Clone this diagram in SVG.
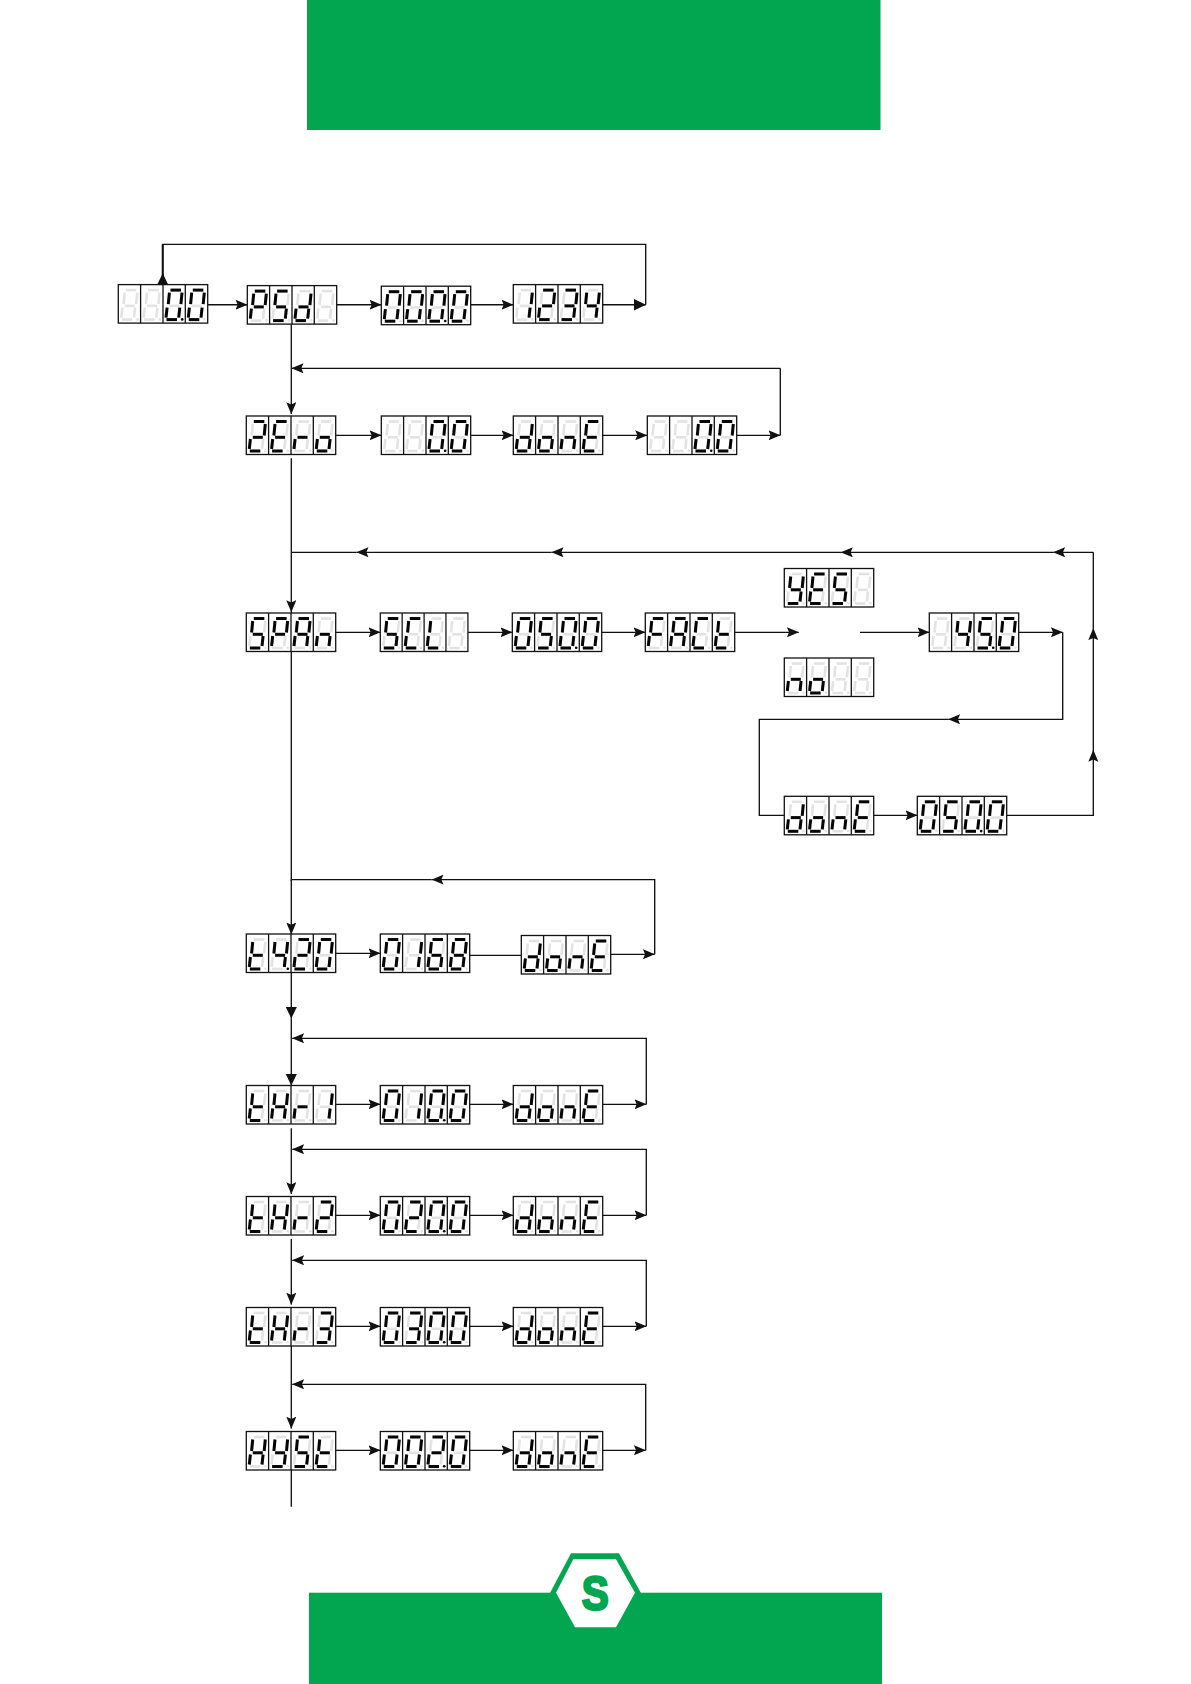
<svg xmlns="http://www.w3.org/2000/svg" width="1191" height="1684" viewBox="0 0 1191 1684">
<style>
.on{stroke:#050505;fill:#050505;stroke-width:3}
.off{stroke:#e3e3e3;fill:#e3e3e3;stroke-width:2.6}
.fr{fill:#fff;stroke:#111;stroke-width:1.3}
.dv{stroke:#111;stroke-width:1.3}
.cn path{fill:none;stroke:#111;stroke-width:1.35}
.a{marker-end:url(#ah)}
.A{marker-end:url(#ahb)}
.g{fill:#02a651}
</style>
<defs>
<marker id="ah" markerUnits="userSpaceOnUse" markerWidth="12" markerHeight="10" refX="11.8" refY="5" orient="auto"><path d="M0,0 L12,5 L0,10 L2.2,5 z" fill="#111"/></marker>
<marker id="ahb" markerUnits="userSpaceOnUse" markerWidth="12" markerHeight="12" refX="11.8" refY="6" orient="auto"><path d="M0,0.2 L12,6 L0,11.8 z" fill="#111"/></marker>
<line id="a" x1="7.5" y1="5.5" x2="18" y2="5.5"/>
<line id="b" x1="19" y1="8" x2="17.9" y2="19.5"/>
<line id="c" x1="16.8" y1="23" x2="15.7" y2="33"/>
<line id="d" x1="3.5" y1="35" x2="14" y2="35"/>
<line id="e" x1="4.1" y1="23" x2="3" y2="33"/>
<line id="f" x1="6.4" y1="8" x2="5.3" y2="19.5"/>
<line id="g" x1="6.5" y1="21.3" x2="16.5" y2="21.3"/>
<circle id="p" cx="19.2" cy="34.8" r="1.3" stroke="none"/>
<g id="c8" class="off"><use href="#a"/><use href="#b"/><use href="#c"/><use href="#d"/><use href="#e"/><use href="#f"/><use href="#g"/><use href="#p"/></g>
<g id="box"><rect class="fr" width="89.4" height="38.5"/><line class="dv" x1="22.3" y1="0" x2="22.3" y2="38.5"/><line class="dv" x1="44.7" y1="0" x2="44.7" y2="38.5"/><line class="dv" x1="67" y1="0" x2="67" y2="38.5"/><use href="#c8"/><use href="#c8" x="22.3"/><use href="#c8" x="44.7"/><use href="#c8" x="67"/></g>
<g id="dp" class="on"><use href="#p"/></g>
<g id="d0" class="on"><use href="#a"/><use href="#b"/><use href="#c"/><use href="#d"/><use href="#e"/><use href="#f"/></g>
<g id="d1" class="on"><use href="#b"/><use href="#c"/></g>
<g id="d2" class="on"><use href="#a"/><use href="#b"/><use href="#g"/><use href="#e"/><use href="#d"/></g>
<g id="d3" class="on"><use href="#a"/><use href="#b"/><use href="#g"/><use href="#c"/><use href="#d"/></g>
<g id="d4" class="on"><use href="#f"/><use href="#g"/><use href="#b"/><use href="#c"/></g>
<g id="d5" class="on"><use href="#a"/><use href="#f"/><use href="#g"/><use href="#c"/><use href="#d"/></g>
<g id="d6" class="on"><use href="#a"/><use href="#f"/><use href="#g"/><use href="#e"/><use href="#c"/><use href="#d"/></g>
<g id="d8" class="on"><use href="#a"/><use href="#b"/><use href="#c"/><use href="#d"/><use href="#e"/><use href="#f"/><use href="#g"/></g>
<g id="lA" class="on"><use href="#a"/><use href="#b"/><use href="#c"/><use href="#e"/><use href="#f"/><use href="#g"/></g>
<g id="lC" class="on"><use href="#a"/><use href="#d"/><use href="#e"/><use href="#f"/></g>
<g id="ld" class="on"><use href="#b"/><use href="#c"/><use href="#d"/><use href="#e"/><use href="#g"/></g>
<g id="lE" class="on"><use href="#a"/><use href="#d"/><use href="#e"/><use href="#f"/><use href="#g"/></g>
<g id="lF" class="on"><use href="#a"/><use href="#e"/><use href="#f"/><use href="#g"/></g>
<g id="lH" class="on"><use href="#b"/><use href="#c"/><use href="#e"/><use href="#f"/><use href="#g"/></g>
<g id="lL" class="on"><use href="#d"/><use href="#e"/><use href="#f"/></g>
<g id="ln" class="on"><use href="#c"/><use href="#e"/><use href="#g"/></g>
<g id="lo" class="on"><use href="#c"/><use href="#d"/><use href="#e"/><use href="#g"/></g>
<g id="lP" class="on"><use href="#a"/><use href="#b"/><use href="#e"/><use href="#f"/><use href="#g"/></g>
<g id="lr" class="on"><use href="#e"/><use href="#g"/></g>
<g id="lt" class="on"><use href="#d"/><use href="#e"/><use href="#f"/><use href="#g"/></g>
<g id="lY" class="on"><use href="#b"/><use href="#c"/><use href="#d"/><use href="#f"/><use href="#g"/></g>
</defs>

<g id="banner-top"><rect class="g" x="307" y="0" width="573.5" height="130"/></g>
<g id="banner-bottom"><rect class="g" x="309" y="1592.7" width="573" height="91.3"/><path class="g" d="M550,1593 L571,1553.3 L619,1553.3 L641,1593 z"/><path fill="#fff" d="M556,1592.7 L573.3,1559.3 L616,1559.3 L635,1592.7 L616,1627.3 L575,1627.3 z"/><text transform="translate(595.3 1610.3) scale(.88 1.03)" x="0" y="0" text-anchor="middle" font-family="'Liberation Sans',Arial,sans-serif" font-weight="700" font-size="46" class="g" stroke="#02a651" stroke-width="2.4">S</text></g>

<g id="connectors" class="cn">
<path class="a" d="M207.7,304.7 H247.3"/>
<path class="a" d="M335.7,304.7 H381.3"/>
<path class="a" d="M470.7,304.7 H513.3"/>
<path class="A" d="M603,304.7 H645.7"/>
<path d="M645.7,304.7 V244.3 H162.7 V275"/>
<path class="A" d="M162.7,284.3 V273.5"/>
<path d="M162.7,284 V244.3" style="stroke-width:2"/>

<path class="a" d="M291.3,324.3 V414"/>
<path class="a" d="M780.3,368.3 H291.7"/>
<path d="M780.3,368.3 V435.3"/>
<path class="a" d="M335.7,435.3 H381.3"/>
<path class="a" d="M469.7,435.3 H513.3"/>
<path class="a" d="M602.7,435.3 H647"/>
<path class="a" d="M737,435.3 H780.3"/>

<path class="a" d="M291.3,458.3 V612"/>
<path d="M291.3,612 V881"/>
<path class="a" d="M1093.3,552.3 H1053.3"/>
<path class="a" d="M1053.3,552.3 H841"/>
<path class="a" d="M841,552.3 H551.7"/>
<path class="a" d="M551.7,552.3 H356.7"/>
<path d="M356.7,552.3 H291.3"/>
<path class="a" d="M335.7,632.3 H380.3"/>
<path class="a" d="M467.7,632.3 H512.3"/>
<path class="a" d="M601.7,632.3 H645.3"/>
<path class="a" d="M734.7,632.3 H798.7"/>
<path class="a" d="M860,632.3 H929.3"/>
<path class="a" d="M1018.7,632.3 H1062.7"/>
<path class="a" d="M1062.7,632.3 V719.3 H948.3"/>
<path d="M948.3,719.3 H759.3 V815.3 H784.3"/>
<path class="a" d="M873.7,815.3 H917.3"/>
<path class="a" d="M1006.7,815.3 H1093.3 V750"/>
<path class="a" d="M1093.3,750 V628.3"/>
<path d="M1093.3,628.3 V552.3"/>

<path class="a" d="M291.3,879.6 V934.3"/>
<path class="a" d="M654.7,954.3 V879.6 H431.7"/>
<path d="M431.7,879.6 H291.3"/>
<path class="a" d="M335.7,953.3 H380.3"/>
<path d="M470,955.3 H521.3"/>
<path class="a" d="M610.7,954.3 H654.7"/>

<path class="A" d="M291.3,972 V1018.3"/>
<path class="A" d="M291.3,1018.3 V1085.3"/>
<path class="a" d="M646.3,1104.3 V1038.3 H292.3"/>
<path class="a" d="M335.7,1104.3 H380.3"/>
<path class="a" d="M468.7,1104.3 H513.3"/>
<path class="a" d="M602.7,1104.3 H646.3"/>

<path class="a" d="M291.3,1128.3 V1194"/>
<path class="a" d="M646.3,1215.3 V1149.3 H292.3"/>
<path class="a" d="M335.7,1215.3 H380.3"/>
<path class="a" d="M468.7,1215.3 H513.3"/>
<path class="a" d="M602.7,1215.3 H646.3"/>

<path class="a" d="M291.3,1239 V1304.5"/>
<path class="a" d="M646.3,1326.3 V1260.3 H292.3"/>
<path class="a" d="M335.7,1326.3 H380.3"/>
<path class="a" d="M468.7,1326.3 H513.3"/>
<path class="a" d="M602.7,1326.3 H646.3"/>

<path class="a" d="M291.3,1346 V1428.5"/>
<path class="a" d="M645.7,1450.3 V1384.3 H292.3"/>
<path class="a" d="M335.7,1450.3 H380.3"/>
<path class="a" d="M468.7,1450.3 H513.3"/>
<path class="a" d="M601.7,1450.3 H645.7"/>
</g>

<g id="n-00" transform="translate(118.3 284.6)"><use href="#box"/><use href="#d0" x="44.7"/><use href="#dp" x="44.7"/><use href="#d0" x="67"/></g>
<g id="n-psd" transform="translate(247.3 285.6)"><use href="#box"/><use href="#lP"/><use href="#d5" x="22.3"/><use href="#ld" x="44.7"/></g>
<g id="n-0000" transform="translate(381.3 286.2)"><use href="#box"/><use href="#d0"/><use href="#d0" x="22.3"/><use href="#d0" x="44.7"/><use href="#dp" x="44.7"/><use href="#d0" x="67"/></g>
<g id="n-1234" transform="translate(513.3 284.6)"><use href="#box"/><use href="#d1"/><use href="#d2" x="22.3"/><use href="#d3" x="44.7"/><use href="#d4" x="67"/></g>

<g id="n-zero" transform="translate(246.3 416)"><use href="#box"/><use href="#d2"/><use href="#lE" x="22.3"/><use href="#lr" x="44.7"/><use href="#lo" x="67"/></g>
<g id="n-zero-val" transform="translate(381.3 416)"><use href="#box"/><use href="#d0" x="44.7"/><use href="#dp" x="44.7"/><use href="#d0" x="67"/></g>
<g id="n-zero-done" transform="translate(513.3 416)"><use href="#box"/><use href="#ld"/><use href="#lo" x="22.3"/><use href="#ln" x="44.7"/><use href="#lE" x="67"/></g>
<g id="n-zero-res" transform="translate(647.3 416)"><use href="#box"/><use href="#d0" x="44.7"/><use href="#dp" x="44.7"/><use href="#d0" x="67"/></g>

<g id="n-span" transform="translate(246.3 613)"><use href="#box"/><use href="#d5"/><use href="#lP" x="22.3"/><use href="#lA" x="44.7"/><use href="#ln" x="67"/></g>
<g id="n-scl" transform="translate(380.3 613)"><use href="#box" transform="scale(.98 1)"/><use href="#d5"/><use href="#lC" x="22"/><use href="#lL" x="44"/></g>
<g id="n-scl-val" transform="translate(512.3 613)"><use href="#box"/><use href="#d0"/><use href="#d5" x="22.3"/><use href="#d0" x="44.7"/><use href="#dp" x="44.7"/><use href="#d0" x="67"/></g>
<g id="n-fact" transform="translate(645.3 613)"><use href="#box"/><use href="#lF"/><use href="#lA" x="22.3"/><use href="#lC" x="44.7"/><use href="#lt" x="67"/></g>
<g id="n-yes" transform="translate(784.3 568.5)"><use href="#box"/><use href="#lY"/><use href="#lE" x="22.3"/><use href="#d5" x="44.7"/></g>
<g id="n-no" transform="translate(784.3 658)"><use href="#box"/><use href="#ln"/><use href="#lo" x="22.3"/></g>
<g id="n-450" transform="translate(929.3 613)"><use href="#box"/><use href="#d4" x="22.3"/><use href="#d5" x="44.7"/><use href="#dp" x="44.7"/><use href="#d0" x="67"/></g>
<g id="n-span-done" transform="translate(784.3 796.3)"><use href="#box"/><use href="#ld"/><use href="#lo" x="22.3"/><use href="#ln" x="44.7"/><use href="#lE" x="67"/></g>
<g id="n-span-res" transform="translate(917.3 796.3)"><use href="#box"/><use href="#d0"/><use href="#d5" x="22.3"/><use href="#d0" x="44.7"/><use href="#dp" x="44.7"/><use href="#d0" x="67"/></g>

<g id="n-t420" transform="translate(246.3 934)"><use href="#box"/><use href="#lt"/><use href="#d4" x="22.3"/><use href="#dp" x="22.3"/><use href="#d2" x="44.7"/><use href="#d0" x="67"/></g>
<g id="n-0168" transform="translate(380.3 934)"><use href="#box"/><use href="#d0"/><use href="#d1" x="22.3"/><use href="#d6" x="44.7"/><use href="#d8" x="67"/></g>
<g id="n-t420-done" transform="translate(521.3 935.5)"><use href="#box"/><use href="#ld"/><use href="#lo" x="22.3"/><use href="#ln" x="44.7"/><use href="#lE" x="67"/></g>

<g id="n-thr1" transform="translate(246.3 1085.5)"><use href="#box"/><use href="#lt"/><use href="#lH" x="22.3"/><use href="#lr" x="44.7"/><use href="#d1" x="67"/></g>
<g id="n-thr1-val" transform="translate(380.3 1085.5)"><use href="#box"/><use href="#d0"/><use href="#d1" x="22.3"/><use href="#d0" x="44.7"/><use href="#dp" x="44.7"/><use href="#d0" x="67"/></g>
<g id="n-thr1-done" transform="translate(513.3 1085.5)"><use href="#box"/><use href="#ld"/><use href="#lo" x="22.3"/><use href="#ln" x="44.7"/><use href="#lE" x="67"/></g>

<g id="n-thr2" transform="translate(246.3 1196.5)"><use href="#box"/><use href="#lt"/><use href="#lH" x="22.3"/><use href="#lr" x="44.7"/><use href="#d2" x="67"/></g>
<g id="n-thr2-val" transform="translate(380.3 1196.5)"><use href="#box"/><use href="#d0"/><use href="#d2" x="22.3"/><use href="#d0" x="44.7"/><use href="#dp" x="44.7"/><use href="#d0" x="67"/></g>
<g id="n-thr2-done" transform="translate(513.3 1196.5)"><use href="#box"/><use href="#ld"/><use href="#lo" x="22.3"/><use href="#ln" x="44.7"/><use href="#lE" x="67"/></g>

<g id="n-thr3" transform="translate(246.3 1307.5)"><use href="#box"/><use href="#lt"/><use href="#lH" x="22.3"/><use href="#lr" x="44.7"/><use href="#d3" x="67"/></g>
<g id="n-thr3-val" transform="translate(380.3 1307.5)"><use href="#box"/><use href="#d0"/><use href="#d3" x="22.3"/><use href="#d0" x="44.7"/><use href="#dp" x="44.7"/><use href="#d0" x="67"/></g>
<g id="n-thr3-done" transform="translate(513.3 1307.5)"><use href="#box"/><use href="#ld"/><use href="#lo" x="22.3"/><use href="#ln" x="44.7"/><use href="#lE" x="67"/></g>

<g id="n-hyst" transform="translate(246.3 1431.5)"><use href="#box"/><use href="#lH"/><use href="#lY" x="22.3"/><use href="#d5" x="44.7"/><use href="#lt" x="67"/></g>
<g id="n-hyst-val" transform="translate(380.3 1431.5)"><use href="#box"/><use href="#d0"/><use href="#d0" x="22.3"/><use href="#d2" x="44.7"/><use href="#dp" x="44.7"/><use href="#d0" x="67"/></g>
<g id="n-hyst-done" transform="translate(513.3 1431.5)"><use href="#box"/><use href="#ld"/><use href="#lo" x="22.3"/><use href="#ln" x="44.7"/><use href="#lE" x="67"/></g>
<g id="tail" class="cn"><path d="M291.3,1470 V1506.7"/></g>
</svg>
